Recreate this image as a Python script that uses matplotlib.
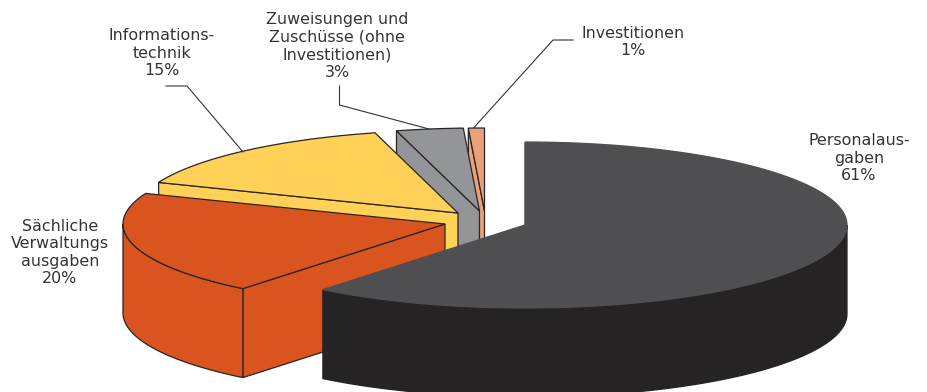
import numpy as np
import matplotlib
matplotlib.use("Agg")
import matplotlib.pyplot as plt
from matplotlib.patches import Polygon

# Anteile (Beschriftung gerundet)
categories = ["Personalausgaben", "Sächliche Verwaltungsausgaben", "Informationstechnik",
              "Zuweisungen und Zuschüsse", "Investitionen"]
shares = [60.8, 20.2, 14.85, 3.35, 0.8]

top_colors = ["#4f4f51", "#d9541e", "#ffd257", "#939598", "#e9a17a"]
side_colors = ["#252324", "#d9541e", "#ffd257", "#939598", "#e9a17a"]
edge_colors = [None, "#2a2425", "#2a2425", "#2a2425", "#2a2425"]

# Spitze jedes Stuecks in Pixeln (explodierte Darstellung)
apexes = [(525, 225), (445, 224), (458, 213), (479.5, 211), (484.5, 211)]
RX, RY, DEPTH = 322, 83, 89

labels = [
    ("Personalaus-\ngaben\n61%", 859, 158),
    ("Sächliche\nVerwaltungs\nausgaben\n20%", 60, 252.5),
    ("Informations-\ntechnik\n15%", 162, 53),
    ("Zuweisungen und\nZuschüsse (ohne\nInvestitionen)\n3%", 337, 46),
    ("Investitionen\n1%", 633, 42),
]
leaders = [
    [(166, 86), (187, 86), (243, 152)],
    [(339.5, 86), (339.5, 105), (429, 129)],
    [(573, 40), (553, 40), (474, 127.5)],
]


def arc(apex, a0, a1, drop=0):
    t = np.radians(np.linspace(a0, a1, 120))
    return np.column_stack([apex[0] + RX * np.sin(t), apex[1] + drop - RY * np.cos(t)])


fig = plt.figure(figsize=(9.27, 3.92), dpi=100)
ax = fig.add_axes([0, 0, 1, 1])
ax.set_xlim(0, 927)
ax.set_ylim(392, 0)
ax.axis("off")

# Winkel im Uhrzeigersinn ab oben
ends = np.cumsum(shares) / sum(shares) * 360
starts = np.concatenate([[0], ends[:-1]])

# von hinten nach vorne malen
for i in [4, 3, 2, 1, 0]:
    apex = apexes[i]
    a0, a1 = starts[i], ends[i]
    edge = edge_colors[i] or side_colors[i]

    # Schnittflaeche an der Startkante
    p = arc(apex, a0, a0)[0]
    wall = [apex, p, (p[0], p[1] + DEPTH), (apex[0], apex[1] + DEPTH)]
    ax.add_patch(Polygon(wall, closed=True, fc=side_colors[i], ec=edge, lw=0.9, zorder=i * -3 + 20))

    # Aussenwand, nur vorderer Teil sichtbar
    lo, hi = max(a0, 90), min(a1, 270)
    if lo < hi:
        rim = np.vstack([arc(apex, lo, hi), arc(apex, hi, lo, DEPTH)])
        ax.add_patch(Polygon(rim, closed=True, fc=side_colors[i], ec=edge, lw=0.9, zorder=i * -3 + 21))

    # Deckflaeche
    top = np.vstack([[apex], arc(apex, a0, a1)])
    ax.add_patch(Polygon(top, closed=True, fc=top_colors[i], ec=edge_colors[i] or top_colors[i],
                         lw=0.9, zorder=i * -3 + 22))

for pts in leaders:
    xs, ys = zip(*pts)
    ax.plot(xs, ys, color="#333333", lw=0.8, zorder=30)

for txt, x, y in labels:
    ax.text(x, y, txt, ha="center", va="center", fontsize=11.4, color="#333333",
            family="DejaVu Sans", linespacing=1.2)

fig.savefig("out.png", dpi=100)
